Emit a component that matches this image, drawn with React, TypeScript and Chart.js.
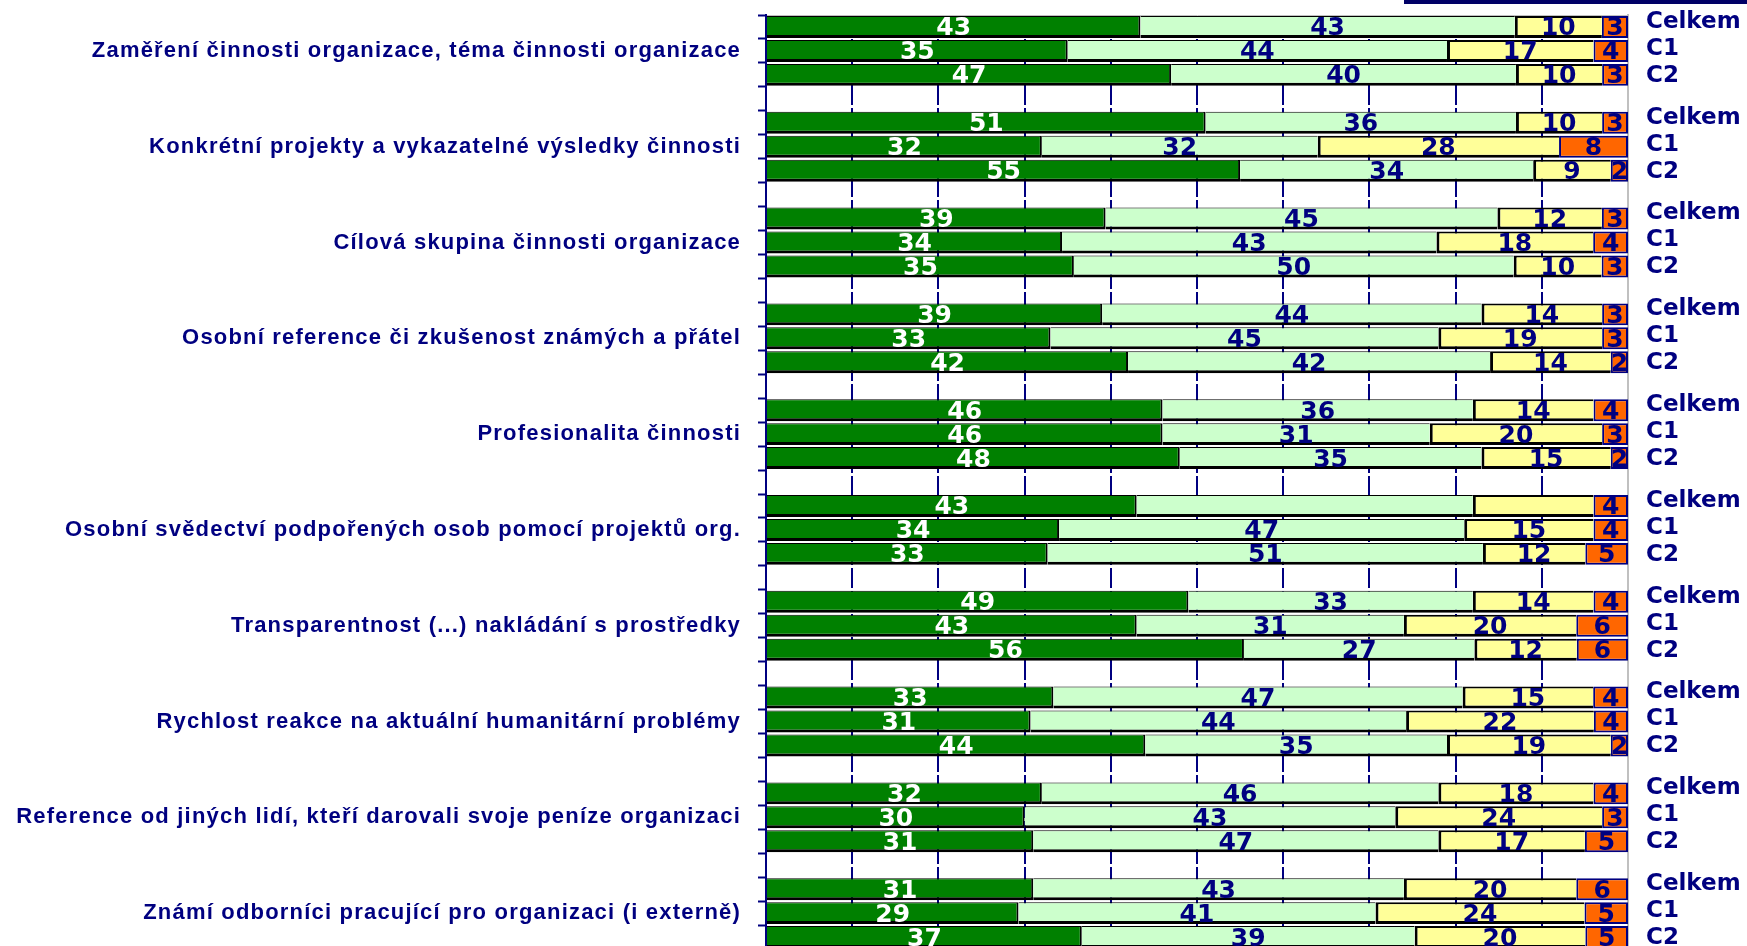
import React, { useEffect, useRef } from 'react';
import { Chart, registerables } from 'chart.js';

Chart.register(...registerables);

const groups = [
  'Zaměření činnosti organizace, téma činnosti organizace',
  'Konkrétní projekty a vykazatelné výsledky činnosti',
  'Cílová skupina činnosti organizace',
  'Osobní reference či zkušenost známých a přátel',
  'Profesionalita činnosti',
  'Osobní svědectví podpořených osob pomocí projektů org.',
  'Transparentnost (...) nakládání s prostředky',
  'Rychlost reakce na aktuální humanitární problémy',
  'Reference od jiných lidí, kteří darovali svoje peníze organizaci',
  'Známí odborníci pracující pro organizaci (i externě)',
];

const subgroups = ['Celkem', 'C1', 'C2'];

const seriesNames = ['rozhodně ano', 'spíše ano', 'spíše ne', 'rozhodně ne'];

// order per group: Celkem, C1, C2
const definitelyYes = [43, 35, 47, 51, 32, 55, 39, 34, 35, 39, 33, 42, 46, 46, 48, 43, 34, 33, 49, 43, 56, 33, 31, 44, 32, 30, 31, 31, 29, 37];
const ratherYes = [43, 44, 40, 36, 32, 34, 45, 43, 50, 44, 45, 42, 36, 31, 35, 39, 47, 51, 33, 31, 27, 47, 44, 35, 46, 43, 47, 43, 41, 39];
const ratherNo = [10, 17, 10, 10, 28, 9, 12, 18, 10, 14, 19, 14, 14, 20, 15, 14, 15, 12, 14, 20, 12, 15, 22, 19, 18, 24, 17, 20, 24, 20];
const definitelyNo = [3, 4, 3, 3, 8, 2, 3, 4, 3, 3, 3, 2, 4, 3, 2, 4, 4, 5, 4, 6, 6, 4, 4, 2, 4, 3, 5, 6, 5, 5];

// [row index in the 30 rows, series index] whose value has no printed label
const unlabeled = [[15, 1], [15, 2]];

const NAVY = '#000080';
const fillColors = ['#008000', '#CCFFCC', '#FFFF99', '#FF6600'];
const edgeColors = ['#000000', '#000000', '#000000', '#000080'];
const edgeWidths = [
  { top: 1, bottom: 3, left: 0, right: 2 },
  { top: 1, bottom: 3, left: 0, right: 0 },
  { top: 2, bottom: 3, left: 3, right: 0 },
  { top: 2, bottom: 2, left: 2, right: 2 },
];

export default function App() {
  const ref = useRef<HTMLCanvasElement | null>(null);

  useEffect(() => {
    if (!ref.current) return;
    const series = [definitelyYes, ratherYes, ratherNo, definitelyNo];
    const rows: ({ gi: number; si: number; idx: number } | null)[] = [];
    groups.forEach((_, gi) => {
      subgroups.forEach((_, si) => rows.push({ gi, si, idx: gi * 3 + si }));
      rows.push(null);
    });
    const totals = definitelyYes.map((_, i) => series.reduce((a, s) => a + s[i], 0));
    const rowLabels = rows.map((r) => (r ? groups[r.gi] + ' – ' + subgroups[r.si] : ''));

    const datasets = series.map((s, k) => ({
      label: seriesNames[k],
      data: rows.map((r) => (r ? (s[r.idx] * 100) / totals[r.idx] : null)),
      raw: rows.map((r) =>
        r && !unlabeled.some(([i, kk]) => i === r.idx && kk === k) ? s[r.idx] : null
      ),
      backgroundColor: fillColors[k],
      borderColor: edgeColors[k],
      borderWidth: edgeWidths[k],
      borderSkipped: false,
      barPercentage: 0.918,
      categoryPercentage: 1,
    }));

    const spacing = {
      id: 'spacing',
      beforeDraw(chart: any) {
        chart.ctx.letterSpacing = '1.2px';
      },
      beforeDatasetsDraw(chart: any) {
        chart.ctx.letterSpacing = '0px';
      },
    };

    const valueLabels = {
      id: 'valueLabels',
      afterDatasetsDraw(chart: any) {
        const ctx = chart.ctx;
        ctx.save();
        ctx.letterSpacing = '0px';
        ctx.font = 'bold 25px "DejaVu Sans"';
        ctx.textAlign = 'center';
        ctx.textBaseline = 'middle';
        chart.data.datasets.forEach((ds: any, di: number) => {
          const meta = chart.getDatasetMeta(di);
          meta.data.forEach((el: any, i: number) => {
            const v = ds.raw[i];
            if (v == null) return;
            const p = el.getProps(['x', 'y', 'base'], true);
            ctx.fillStyle = di === 0 ? '#FFFFFF' : NAVY;
            ctx.fillText(String(v), (p.x + p.base) / 2, p.y + 2);
          });
        });
        ctx.restore();
      },
    };

    const sideLabels = {
      id: 'sideLabels',
      afterDraw(chart: any) {
        const ctx = chart.ctx;
        const y = chart.scales.y;
        const area = chart.chartArea;
        ctx.save();
        ctx.letterSpacing = '0px';
        ctx.font = 'bold 23px "DejaVu Sans"';
        ctx.textAlign = 'left';
        ctx.textBaseline = 'middle';
        ctx.fillStyle = NAVY;
        groups.forEach((_, gi) => {
          const c = y.getPixelForValue(gi * 4 + 1);
          subgroups.forEach((s, si) => {
            ctx.fillText(s, area.right + 18, c - 2 + (si - 1) * 27);
          });
        });
        // dark rule at the top right
        ctx.fillStyle = '#000066';
        ctx.fillRect(1404, 0, chart.width - 1404, 4);
        ctx.restore();
      },
    };

    const chart = new Chart(ref.current, {
      type: 'bar',
      data: { labels: rowLabels, datasets: datasets as any },
      options: {
        indexAxis: 'y',
        responsive: false,
        animation: false,
        layout: { padding: { top: 15, right: 0, bottom: 20, left: 0 } },
        plugins: { legend: { display: false }, tooltip: { enabled: false } },
        scales: {
          x: {
            type: 'linear',
            position: 'top',
            stacked: true,
            min: 0,
            max: 100,
            ticks: { display: false, stepSize: 10 },
            grid: {
              drawTicks: false,
              lineWidth: 2,
              color: (c: any) => (c.tick && c.tick.value === 100 ? 'rgba(0,0,0,0)' : NAVY),
            },
            border: { display: true, color: '#C0C0C0', width: 1, dash: [20, 3] },
            afterFit: (s: any) => {
              s.height = 0;
              s.paddingLeft = 0;
              s.paddingRight = 0;
            },
          },
          y: {
            type: 'category',
            stacked: true,
            position: 'left',
            ticks: {
              autoSkip: false,
              padding: 17,
              color: NAVY,
              font: { family: '"Liberation Sans"', size: 22, weight: 'bold' },
              callback: (_v: any, idx: number) => (idx % 4 === 1 ? groups[Math.floor(idx / 4)] : ''),
            },
            grid: {
              drawOnChartArea: false,
              drawTicks: true,
              tickLength: 8,
              tickWidth: 2,
              tickColor: NAVY,
              color: NAVY,
              offset: true,
            },
            border: { display: true, color: NAVY, width: 2 },
            afterFit: (s: any) => {
              s.width = 766;
              s.paddingTop = 0;
              s.paddingBottom = 0;
            },
          },
          y2: {
            type: 'category',
            position: 'right',
            labels: rowLabels,
            ticks: { display: false },
            grid: { drawOnChartArea: false, drawTicks: false },
            border: { display: true, color: '#C0C0C0', width: 2 },
            afterFit: (s: any) => {
              s.width = 119;
              s.paddingTop = 0;
              s.paddingBottom = 0;
            },
          },
        },
      } as any,
      plugins: [spacing, valueLabels, sideLabels],
    });
    return () => chart.destroy();
  }, []);

  return (
    <div
      style={{
        position: 'fixed',
        left: 0,
        top: 0,
        width: 1747,
        height: 946,
        overflow: 'hidden',
        background: '#FFFFFF',
      }}
    >
      <canvas ref={ref} width={1747} height={993} style={{ width: 1747, height: 993, display: 'block' }} />
    </div>
  );
}
